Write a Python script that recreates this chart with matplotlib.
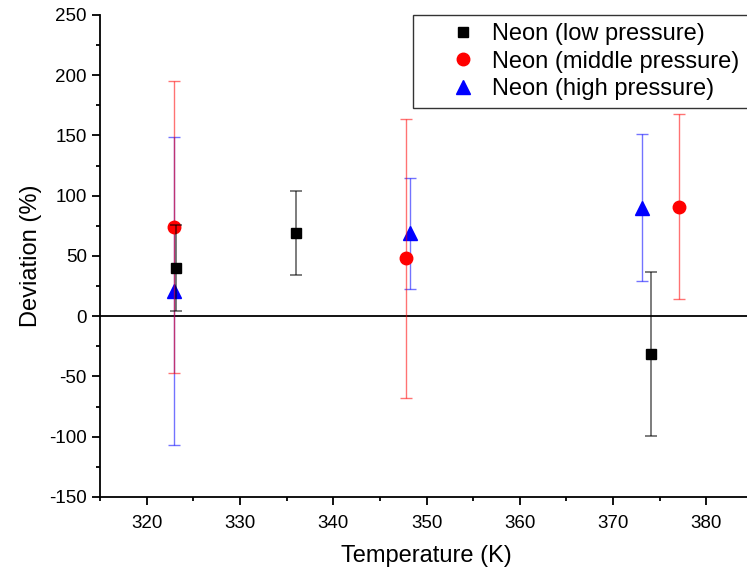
import matplotlib.pyplot as plt
from matplotlib.ticker import MultipleLocator

plt.rcParams['font.family'] = ['Liberation Sans', 'DejaVu Sans']
plt.rcParams['axes.unicode_minus'] = False

# low pressure
t_low = [323.1, 336.0, 374.1]
d_low = [40, 69, -31]
e_low = [36, 35, 68]

# middle pressure
t_mid = [322.9, 347.8, 377.1]
d_mid = [74, 48, 91]
e_mid = [121, 116, 77]

# high pressure
t_high = [322.9, 348.2, 373.1]
d_high = [21, 69, 90]
e_high = [128, 46, 61]

labels = ['Neon (low pressure)', 'Neon (middle pressure)', 'Neon (high pressure)']

fig = plt.figure(figsize=(7.47, 5.76), dpi=100)
ax = fig.add_axes([0.1339, 0.1372, 0.8742, 0.8368])

ax.axhline(0, color='black', lw=1.3, zorder=1)

ax.errorbar(t_high, d_high, yerr=e_high, fmt='^', color='blue', ms=10,
            ecolor=(0, 0, 1, 0.55), elinewidth=1, capsize=4, capthick=1,
            label=labels[2], zorder=3)
ax.errorbar(t_mid, d_mid, yerr=e_mid, fmt='o', color='red', ms=9,
            ecolor=(1, 0, 0, 0.55), elinewidth=1, capsize=4, capthick=1,
            label=labels[1], zorder=4)
ax.errorbar(t_low, d_low, yerr=e_low, fmt='s', color='black', ms=7.5,
            ecolor=(0, 0, 0, 0.6), elinewidth=1.2, capsize=4, capthick=1.2,
            label=labels[0], zorder=5)

ax.set_xlim(315, 385)
ax.set_ylim(-150, 250)
ax.xaxis.set_major_locator(MultipleLocator(10))
ax.xaxis.set_minor_locator(MultipleLocator(5))
ax.yaxis.set_major_locator(MultipleLocator(50))
ax.yaxis.set_minor_locator(MultipleLocator(25))
ax.tick_params(which='major', length=6, width=1.3, labelsize=13.5, direction='out')
ax.tick_params(axis='x', which='major', pad=7)
ax.tick_params(which='minor', length=3, width=1.3, direction='out')

for s in ['top', 'right']:
    ax.spines[s].set_visible(False)
for s in ['left', 'bottom']:
    ax.spines[s].set_linewidth(1.3)

ax.set_xlabel('Temperature (K)', fontsize=17, labelpad=9)
ax.set_ylabel('Deviation (%)', fontsize=17, labelpad=5)

h, l = ax.get_legend_handles_labels()
handles = [hh[0] for hh in h[::-1]]
leg = ax.legend(handles, l[::-1], loc='upper left', bbox_to_anchor=(0.479, 1.0),
                borderaxespad=0, fontsize=17, frameon=True, fancybox=False,
                edgecolor='black', handletextpad=-0.5, labelspacing=0.22,
                borderpad=0.36, handlelength=3.5, numpoints=1)
leg.get_frame().set_linewidth(1)

fig.savefig('out.png', dpi=100)
